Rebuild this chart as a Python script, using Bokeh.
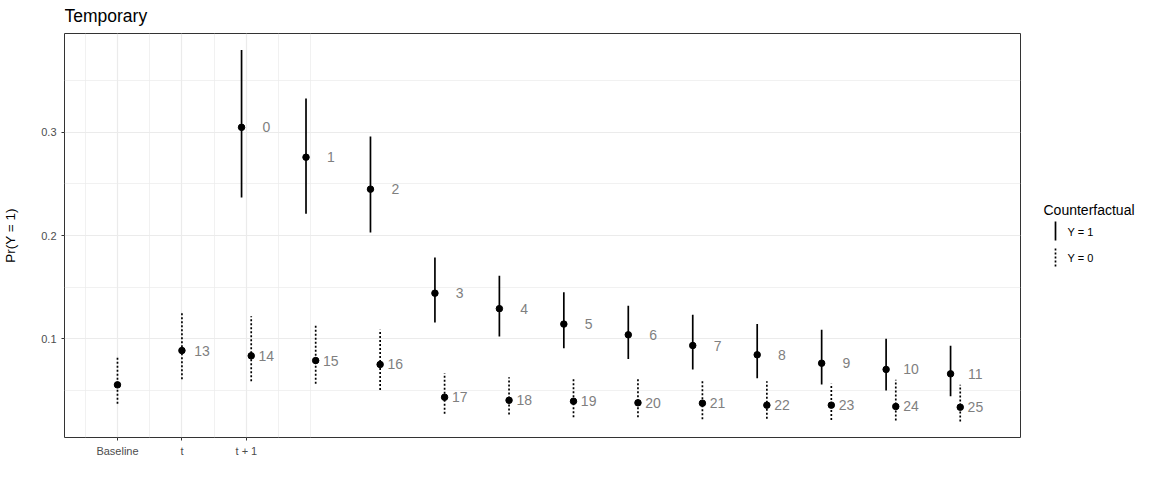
from bokeh.plotting import figure
from bokeh.models import Range1d, FixedTicker, ColumnDataSource
from bokeh.layouts import row, column
from bokeh.embed import file_html
from bokeh.resources import INLINE
from bokeh.core.properties import value

FONT = "Liberation Sans"

# ---- data ----
x_tick_pos = [1, 2, 3]
x_tick_labels = ["Baseline", "t", "t + 1"]

# Counterfactual Y = 1
y1_pos = [3, 4, 5, 6, 7, 8, 9, 10, 11, 12, 13, 14]
y1_est = [0.305, 0.276, 0.245, 0.144, 0.129, 0.114, 0.1036, 0.0932, 0.0842, 0.076, 0.070, 0.0657]
y1_lo = [0.237, 0.221, 0.203, 0.1155, 0.102, 0.0906, 0.080, 0.070, 0.0615, 0.0553, 0.0495, 0.044]
y1_hi = [0.380, 0.333, 0.296, 0.1786, 0.161, 0.145, 0.1317, 0.123, 0.114, 0.1084, 0.0997, 0.093]
y1_lab = ["0", "1", "2", "3", "4", "5", "6", "7", "8", "9", "10", "11"]

# Counterfactual Y = 0
y0_pos = [1, 2, 3, 4, 5, 6, 7, 8, 9, 10, 11, 12, 13, 14]
y0_est = [0.055, 0.0883, 0.0832, 0.0786, 0.0748, 0.043, 0.040, 0.0391, 0.0376, 0.0372, 0.0353, 0.0353, 0.034, 0.0333]
y0_lo = [0.0366, 0.0605, 0.0585, 0.056, 0.050, 0.0269, 0.0262, 0.0236, 0.0236, 0.0217, 0.022, 0.021, 0.0204, 0.0194]
y0_hi = [0.0825, 0.1246, 0.1217, 0.1136, 0.1084, 0.0663, 0.0624, 0.0605, 0.0605, 0.0585, 0.0585, 0.056, 0.0599, 0.055]
y0_lab = ["", "13", "14", "15", "16", "17", "18", "19", "20", "21", "22", "23", "24", "25"]

chart_title = "Temporary"
legend_title = "Counterfactual"
legend_labels = ["Y = 1", "Y = 0"]

DODGE = 0.075
LAB_NUDGE = 0.31

both = set(y1_pos) & set(y0_pos)
src1 = ColumnDataSource(dict(
    x=[p - DODGE if p in both else p for p in y1_pos],
    lx=[p + LAB_NUDGE for p in y1_pos],
    y=y1_est, lo=y1_lo, hi=y1_hi, lab=y1_lab))
src0 = ColumnDataSource(dict(
    x=[p + DODGE if p in both else p for p in y0_pos],
    lx=[p + LAB_NUDGE for p in y0_pos],
    y=y0_est, lo=y0_lo, hi=y0_hi, lab=y0_lab))


def blank(w, h):
    f = figure(width=w, height=h, x_range=Range1d(0, w), y_range=Range1d(h, 0),
               output_backend="svg", toolbar_location=None,
               x_axis_location=None, y_axis_location=None, min_border=0)
    f.grid.visible = False
    f.outline_line_color = None
    f.background_fill_color = "white"
    f.border_fill_color = "white"
    return f


MW = 1030
# ---- title strip (its frame is aligned with the panel's left edge by the column) ----
TH = 33
tf = blank(MW, TH)
tf.text(x=[0], y=[15], text=[chart_title], text_font=value(FONT), text_font_size="17.5px",
        text_color="black", text_align="left", text_baseline="middle")

# ---- main panel ----
H = 437
p = figure(width=MW, height=H,
           x_range=Range1d(0.178, 15.01), y_range=Range1d(0.0039, 0.3961),
           output_backend="svg", toolbar_location=None,
           min_border_left=64, min_border_right=10, min_border_top=0, min_border_bottom=33)
p.background_fill_color = "white"
p.border_fill_color = "white"
p.outline_line_color = "#333333"
p.outline_line_width = 1

for g in (p.xgrid, p.ygrid):
    g.grid_line_color = "#EBEBEB"
    g.grid_line_width = 1.2
    g.minor_grid_line_color = "#EBEBEB"
    g.minor_grid_line_width = 0.7

p.xaxis.ticker = FixedTicker(ticks=x_tick_pos, minor_ticks=[0.5, 1.5, 2.5, 3.5, 4])
p.xaxis.major_label_overrides = {k: v for k, v in zip(x_tick_pos, x_tick_labels)}
p.yaxis.ticker = FixedTicker(ticks=[0.1, 0.2, 0.3], minor_ticks=[0.05, 0.15, 0.25, 0.35])
p.yaxis.axis_label = "Pr(Y = 1)"

for ax in (p.xaxis, p.yaxis):
    ax.axis_line_color = None
    ax.major_tick_line_color = "#333333"
    ax.major_tick_out = 3
    ax.major_tick_in = 0
    ax.minor_tick_line_color = None
    ax.major_label_text_font = FONT
    ax.major_label_text_font_size = "11px"
    ax.major_label_text_color = "#4D4D4D"
    ax.axis_label_text_font = FONT
    ax.axis_label_text_font_size = "13.5px"
    ax.axis_label_text_font_style = "normal"
    ax.axis_label_text_color = "black"
p.xaxis.major_label_standoff = 3
p.yaxis.major_label_standoff = 4
p.yaxis.axis_label_standoff = 20

# error bars
p.segment(x0="x", y0="lo", x1="x", y1="hi", source=src1, line_color="black", line_width=1.7)
p.segment(x0="x", y0="lo", x1="x", y1="hi", source=src0, line_color="black", line_width=1.7,
          line_dash="2 2")
# points
p.scatter("x", "y", source=src1, size=6.5, color="black")
p.scatter("x", "y", source=src0, size=6.5, color="black")
# labels
for s in (src1, src0):
    p.text("lx", "y", text="lab", source=s, text_font=value(FONT), text_font_size="14px",
           text_color="#7F7F7F", text_align="center", text_baseline="middle")

# ---- legend panel (full height, page coordinates) ----
lg = blank(116, TH + H)
lg.text(x=[13], y=[209], text=[legend_title], text_font=value(FONT), text_font_size="14px",
        text_color="black", text_align="left", text_baseline="middle")
lg.segment(x0=[25], y0=[221], x1=[25], y1=[240], line_color="black", line_width=1.7)
lg.segment(x0=[25], y0=[248], x1=[25], y1=[266], line_color="black", line_width=1.7,
           line_dash="2 2")
lg.text(x=[37, 37], y=[231, 257], text=legend_labels, text_font=value(FONT),
        text_font_size="11px", text_color="black", text_align="left", text_baseline="middle")

layout = row(column(tf, p), lg)
open("out.html", "w").write(file_html(layout, INLINE))
